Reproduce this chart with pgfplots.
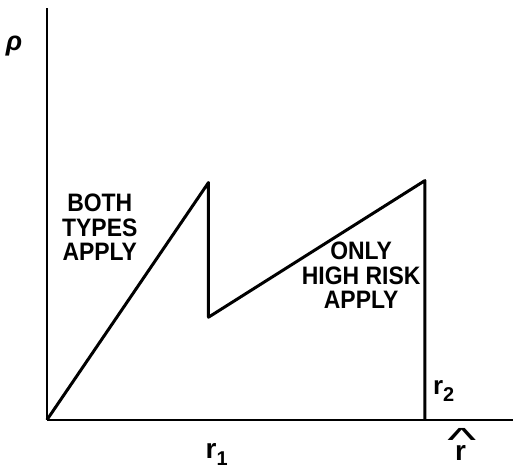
\documentclass[border=0pt]{standalone}
\usepackage{fontspec}
\setmainfont{Liberation Sans}
\usepackage{pgfplots}
\pgfplotsset{compat=1.18}

\newcommand{\sub}[1]{\raisebox{-7pt}{\fontsize{20}{20}\selectfont\bfseries #1}}

\begin{document}
\begin{tikzpicture}
\begin{axis}[
    scale only axis,
    width=467pt, height=413pt,
    xmin=0, xmax=467, ymin=0, ymax=413,
    axis lines=left,
    axis line style={-, line width=2.5pt},
    ticks=none,
    clip=false,
    enlargelimits=false,
]
\path (axis cs:-47,-49) rectangle (axis cs:467,421);

\addplot[black, line width=3pt, line join=round] coordinates {
(0,0)
(162,238)
(162,103)
(379,240)
(379,0)
};

\begin{scope}[every node/.style={inner sep=0pt}]
\node[font=\fontsize{23}{22.5}\selectfont\bfseries, align=center,
      transform shape, yscale=1.1] at (axis cs:53,193) {BOTH\\TYPES\\APPLY};
\node[font=\fontsize{23}{22.5}\selectfont\bfseries, align=center,
      transform shape, yscale=1.1] at (axis cs:315,145) {ONLY\\HIGH RISK\\APPLY};
\node[anchor=base west, font=\fontsize{28}{28}\selectfont\bfseries] at (axis cs:159,-39) {r\sub{1}};
\node[anchor=base west, font=\fontsize{26}{26}\selectfont\bfseries] at (axis cs:387,26) {r\sub{2}};
\node[anchor=base west, font=\fontsize{28}{28}\selectfont\bfseries] at (axis cs:409,-41) {r};
\node[font=\fontsize{28}{28}\selectfont] at (axis cs:416,-20) {\scalebox{2.2}[1.2]{\^{}}};
\node[font=\fontsize{27}{27}\selectfont\bfseries\itshape] at (axis cs:-33,375) {ρ};
\end{scope}
\end{axis}
\end{tikzpicture}
\end{document}
